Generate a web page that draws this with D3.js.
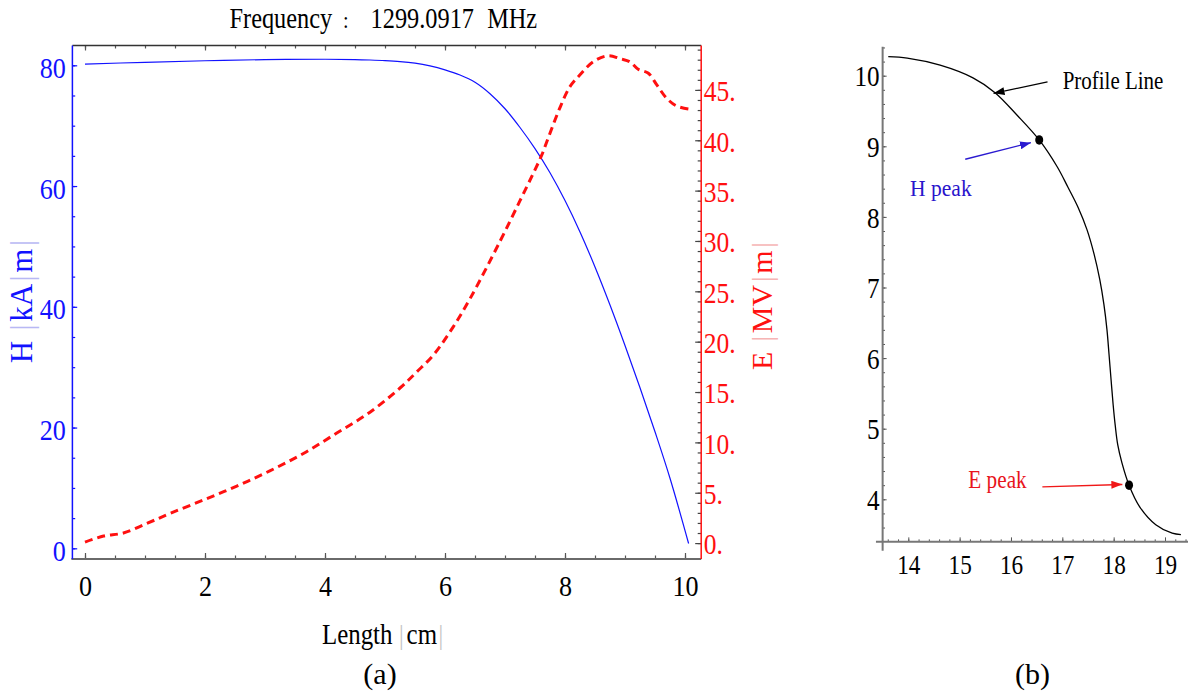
<!DOCTYPE html>
<html>
<head>
<meta charset="utf-8">
<script src="https://cdn.jsdelivr.net/npm/d3@7"></script>
<style>
  html, body { margin: 0; padding: 0; background: #fff; }
  svg { display: block; }
</style>
</head>
<body>
<svg id="chart" width="1188" height="697"></svg>
<script>
// ---- (a) field amplitudes along the cavity axis ----
const lengthH = [0, 1, 2, 3, 4, 4.5, 4.75, 5.0, 5.25, 5.5, 5.75, 6.0, 6.25, 6.5, 6.75, 7.0, 7.25, 7.5, 7.75, 8.0, 8.25, 8.5, 8.75, 9.0, 9.25, 9.5, 9.75, 10.06];
const fieldH  = [80.2, 80.5, 80.75, 80.95, 81.0, 80.95, 80.88, 80.78, 80.62, 80.35, 79.9, 79.25, 78.4, 77.2, 75.3, 72.8, 69.7, 66.2, 62.2, 57.6, 52.4, 46.6, 40.3, 33.6, 26.6, 19.3, 11.6, 0.8];

const lengthE = [0, 0.31, 0.64, 1.03, 1.42, 1.97, 2.53, 3.08, 3.64, 4.19, 4.75, 5.25, 5.53, 5.81, 6.14, 6.42, 6.92, 7.25, 7.47, 7.61, 7.75, 7.92, 8.08, 8.25, 8.47, 8.72, 8.92, 9.08, 9.22, 9.39, 9.53, 9.69, 9.86, 10.06];
const fieldE  = [0.1, 0.7, 1.0, 1.95, 2.95, 4.27, 5.66, 7.17, 8.9, 10.9, 13.0, 15.4, 17.0, 18.7, 21.5, 24.3, 30.0, 34.0, 36.7, 38.5, 40.7, 43.3, 45.3, 46.5, 47.8, 48.4, 48.1, 47.8, 47.05, 46.65, 45.5, 44.2, 43.4, 43.1];

const lengthTicks = [0, 2, 4, 6, 8, 10];
const hTicks = [0, 20, 40, 60, 80];
const eTicks = [0, 5, 10, 15, 20, 25, 30, 35, 40, 45];

// ---- (b) cell wall profile ----
const profileZ = [13.61, 13.98, 14.62, 15.26, 15.69, 16.12, 16.55, 16.9, 17.11, 17.31, 17.48, 17.62, 17.73, 17.81, 17.87, 17.91, 17.95, 17.99, 18.03, 18.08, 18.16, 18.3, 18.51, 18.82, 19.14, 19.31];
const profileR = [10.27, 10.25, 10.15, 9.97, 9.76, 9.44, 9.09, 8.71, 8.42, 8.13, 7.82, 7.47, 7.11, 6.76, 6.4, 6.05, 5.69, 5.34, 5.05, 4.77, 4.52, 4.2, 3.89, 3.64, 3.52, 3.5];

const peakNames = ["H peak", "E peak"];
const peakZ = [16.55, 18.3];
const peakR = [9.09, 4.2];

const zTicks = [14, 15, 16, 17, 18, 19];
const rTicks = [4, 5, 6, 7, 8, 9, 10];

// ---- drawing ----
const W = 1188, H = 697;
const FONT = '"Liberation Serif", "Times New Roman", serif';
const BLUE = "#1212ff", RED = "#ff1010", FRAME = "#6a6a6a";
const svg = d3.select("#chart");

// narrow the glyphs horizontally while keeping each label anchored at its x
function squeeze(sel, k) {
  sel.attr("transform", function () {
    const x = +this.getAttribute("x") || 0;
    return `translate(${x * (1 - k)},0) scale(${k},1)`;
  });
}
function styleAxis(g, size, fill, tickColor, tickWidth) {
  g.attr("font-family", FONT).attr("font-size", size);
  g.select(".domain").remove();
  g.selectAll(".tick line").attr("stroke", tickColor).attr("stroke-width", tickWidth);
  g.selectAll(".tick text").attr("fill", fill);
}
function put(g, str, x, y, size, fill, len, anchor) {
  const t = g.append("text")
    .attr("x", x).attr("y", y)
    .attr("font-family", FONT).attr("font-size", size)
    .attr("fill", fill)
    .attr("text-anchor", anchor || "start")
    .text(str);
  if (len) t.attr("textLength", len).attr("lengthAdjust", "spacingAndGlyphs");
  return t;
}
// one text line built from pieces; pieces = [[string, dx, colour, size?], ...]
function pieced(g, x, y, size, k, pieces, anchor) {
  const t = g.append("text")
    .attr("x", x).attr("y", y)
    .attr("font-family", FONT).attr("font-size", size)
    .attr("text-anchor", anchor || "start");
  pieces.forEach(([s, dx, c, fs]) => {
    const sp = t.append("tspan").attr("dx", dx).attr("fill", c).text(s);
    if (fs) sp.attr("font-size", fs);
  });
  squeeze(t, k);
  return t;
}

// ===== panel (a) =====
const xA = d3.scaleLinear().domain([-0.21, 10.27]).range([72.4, 701.2]);
const yH = d3.scaleLinear().domain([-1.77, 83.28]).range([559, 45.5]);
const yE = d3.scaleLinear().domain([-1.58, 49.41]).range([559, 45.5]);
const [ax0, ax1] = xA.range();
const [ayB, ayT] = yH.range();
const gA = svg.append("g");

const smooth = d3.curveCatmullRom.alpha(0.5);
const lineH = d3.line().x(d => xA(d[0])).y(d => yH(d[1])).curve(smooth);
const lineE = d3.line().x(d => xA(d[0])).y(d => yE(d[1])).curve(smooth);

gA.append("path")
  .datum(d3.zip(lengthH, fieldH))
  .attr("d", lineH)
  .attr("fill", "none").attr("stroke", BLUE).attr("stroke-width", 1.2);

gA.append("path")
  .datum(d3.zip(lengthE, fieldE))
  .attr("d", lineE)
  .attr("fill", "none").attr("stroke", RED).attr("stroke-width", 3)
  .attr("stroke-dasharray", "8,5");

// bottom edge: half-centimetre minor ticks and labelled majors
const halfCm = d3.range(0, 21).map(i => i / 2);
gA.append("g").attr("transform", `translate(0,${ayB})`)
  .call(d3.axisBottom(xA).tickValues(halfCm).tickSize(-3.5).tickFormat(""))
  .call(g => styleAxis(g, 30, "#000", "#555", 1.2));
gA.append("g").attr("transform", `translate(0,${ayB})`)
  .call(d3.axisBottom(xA).tickValues(lengthTicks).tickSize(-6).tickPadding(16).tickFormat(d3.format("d")))
  .call(g => { styleAxis(g, 30, "#000", "#555", 1.2); squeeze(g.selectAll("text"), 0.87); });

// top edge
gA.append("g").attr("transform", `translate(0,${ayT})`)
  .call(d3.axisTop(xA).tickValues(halfCm).tickSize(-3).tickFormat(""))
  .call(g => styleAxis(g, 30, "#000", "#555", 1.2));
gA.append("g").attr("transform", `translate(0,${ayT})`)
  .call(d3.axisTop(xA).tickValues(lengthTicks).tickSize(-5).tickFormat(""))
  .call(g => styleAxis(g, 30, "#000", "#555", 1.2));

// left edge: H scale
gA.append("g").attr("transform", `translate(${ax0},0)`)
  .call(d3.axisLeft(yH).tickValues(d3.range(0, 81, 5)).tickSize(-2.8).tickFormat(""))
  .call(g => styleAxis(g, 30, BLUE, BLUE, 1.2));
gA.append("g").attr("transform", `translate(${ax0},0)`)
  .call(d3.axisLeft(yH).tickValues(hTicks).tickSize(-4.8).tickPadding(6.5))
  .call(g => {
    styleAxis(g, 30, BLUE, BLUE, 1.2);
    g.selectAll("text").attr("dy", "0.4em");
    squeeze(g.selectAll("text"), 0.87);
  });

// right edge: E scale
gA.append("g").attr("transform", `translate(${ax1},0)`)
  .call(d3.axisRight(yE).tickValues(d3.range(0, 50)).tickSize(-3.5).tickFormat(""))
  .call(g => styleAxis(g, 30, RED, "#444", 1.2));
gA.append("g").attr("transform", `translate(${ax1},0)`)
  .call(d3.axisRight(yE).tickValues(eTicks).tickSize(-6).tickPadding(2.5).tickFormat(d => d + "."))
  .call(g => {
    styleAxis(g, 30, RED, "#444", 1.2);
    g.selectAll("text").attr("dy", "0.36em");
    squeeze(g.selectAll("text"), 0.85);
  });

// frame
gA.append("line").attr("x1", ax0 - 1).attr("x2", ax1).attr("y1", ayB).attr("y2", ayB)
  .attr("stroke", FRAME).attr("stroke-width", 2);
gA.append("line").attr("x1", ax0).attr("x2", ax1).attr("y1", ayT).attr("y2", ayT)
  .attr("stroke", "#333").attr("stroke-width", 1.5);
gA.append("line").attr("x1", ax0).attr("x2", ax0).attr("y1", ayT).attr("y2", ayB)
  .attr("stroke", BLUE).attr("stroke-width", 1.5);
gA.append("line").attr("x1", ax1).attr("x2", ax1).attr("y1", ayT).attr("y2", ayB)
  .attr("stroke", RED).attr("stroke-width", 1.5);

// plot title
pieced(gA, 229.5, 28.5, 29, 0.84, [
  ["Frequency", 0, "#000"],
  [":", 12.9, "#000", 24],
  ["1299.0917", 26, "#000"],
  ["MHz", 15.6, "#000"]
]);

// axis titles
pieced(gA, 322, 644, 30, 0.83, [
  ["Length", 0, "#000"],
  ["|", 7.8, "#c4c4c4", 28],
  ["cm", 3.6, "#000"],
  ["|", 1.9, "#c4c4c4", 28]
]);

function verticalTitle(g, x, yMid, size, parts, color, faint) {
  const t = g.append("text")
    .attr("transform", `translate(${x},${yMid}) rotate(-90)`)
    .attr("text-anchor", "middle")
    .attr("font-family", FONT).attr("font-size", size)
    .attr("fill", color);
  parts.forEach((p, i) => {
    t.append("tspan")
      .attr("dx", i === 0 ? 0 : 2.5)
      .attr("fill", p === "|" ? faint : color)
      .text(p);
  });
}
verticalTitle(gA, 31.5, 301.5, 31, ["H ", "|", "kA", "|", "m", "|"], BLUE, "#b8b8f4");
verticalTitle(gA, 771.5, 306, 30, ["E ", "|", "MV", "|", "m", "|"], RED, "#f6b4b4");

put(gA, "(a)", 380, 684, 30, "#000", null, "middle");

// ===== panel (b) =====
const xB = d3.scaleLinear().domain([14, 19]).range([908.3, 1165]);
const yB = d3.scaleLinear().domain([4, 10]).range([499.3, 75.7]);
const gB = svg.append("g");
const zAxisR = 3.4, rAxisZ = 13.5;
const bx0 = xB(rAxisZ), by0 = yB(zAxisR);

// horizontal axis
gB.append("g").attr("transform", `translate(0,${by0})`)
  .call(d3.axisBottom(xB).tickValues(d3.range(68, 98).map(i => i / 5)).tickSize(-2.3).tickFormat(""))
  .call(g => styleAxis(g, 27, "#000", "#555", 1));
gB.append("g").attr("transform", `translate(0,${by0})`)
  .call(d3.axisBottom(xB).tickValues(zTicks).tickSize(-4.3).tickPadding(13.3).tickFormat(d3.format("d")))
  .call(g => { styleAxis(g, 27, "#000", "#555", 1); squeeze(g.selectAll("text"), 0.86); });

// vertical axis
gB.append("g").attr("transform", `translate(${bx0},0)`)
  .call(d3.axisLeft(yB).tickValues(d3.range(18, 53).map(i => i / 5)).tickSize(-2.4).tickFormat(""))
  .call(g => styleAxis(g, 30, "#000", "#555", 1));
gB.append("g").attr("transform", `translate(${bx0},0)`)
  .call(d3.axisLeft(yB).tickValues(rTicks).tickSize(-4).tickPadding(3).tickFormat(d3.format("d")))
  .call(g => {
    styleAxis(g, 30, "#000", "#555", 1);
    g.selectAll("text").attr("dy", "0.34em");
    squeeze(g.selectAll("text"), 0.84);
  });

gB.append("line").attr("x1", xB(13.37)).attr("x2", W).attr("y1", by0).attr("y2", by0)
  .attr("stroke", "#777").attr("stroke-width", 2);
gB.append("line").attr("x1", bx0).attr("x2", bx0).attr("y1", yB(10.41)).attr("y2", yB(3.27))
  .attr("stroke", "#777").attr("stroke-width", 2);

// profile curve
const lineP = d3.line().x(d => xB(d[0])).y(d => yB(d[1])).curve(smooth);
gB.append("path")
  .datum(d3.zip(profileZ, profileR))
  .attr("d", lineP)
  .attr("fill", "none").attr("stroke", "#000").attr("stroke-width", 1.3);

// peak markers
gB.selectAll("ellipse.peak")
  .data(d3.zip(peakNames, peakZ, peakR))
  .join("ellipse").attr("class", "peak")
  .attr("cx", d => xB(d[1])).attr("cy", d => yB(d[2]))
  .attr("rx", 4).attr("ry", 4.8).attr("fill", "#000");

// arrows
const defs = svg.append("defs");
function head(id, color) {
  defs.append("marker").attr("id", id)
    .attr("viewBox", "0 0 11 8").attr("refX", 11).attr("refY", 4)
    .attr("markerWidth", 11).attr("markerHeight", 8)
    .attr("markerUnits", "userSpaceOnUse").attr("orient", "auto")
    .append("path").attr("d", "M0,0 L11,4 L0,8 Z").attr("fill", color);
}
head("ahBlack", "#000");
head("ahBlue", "#2a1ad0");
head("ahRed", "#f01818");
function arrow(x1, y1, x2, y2, color, id) {
  gB.append("line").attr("x1", x1).attr("y1", y1).attr("x2", x2).attr("y2", y2)
    .attr("stroke", color).attr("stroke-width", 1.3).attr("marker-end", `url(#${id})`);
}

// "Profile Line" points at the wall near z = 15.66
const pTipX = xB(15.66), pTipY = yB(9.75);
arrow(pTipX + 54, pTipY - 11.4, pTipX, pTipY, "#000", "ahBlack");
put(gB, "Profile Line", 1062.7, 89.3, 26, "#000", 100.7);

const hx = xB(peakZ[0]), hy = yB(peakR[0]);
arrow(hx - 74, hy + 19.3, hx - 8.3, hy + 2.7, "#2a1ad0", "ahBlue");
put(gB, peakNames[0], 910, 195.5, 24, "#2a14cc", 61.7);

const ex = xB(peakZ[1]), ey = yB(peakR[1]);
arrow(ex - 86.7, ey + 1.7, ex - 6.7, ey - 0.7, "#f01818", "ahRed");
put(gB, peakNames[1], 968.3, 488.3, 25, "#e8141c", 58.4);

put(gB, "(b)", 1032.5, 684, 30, "#000", null, "middle");
</script>
</body>
</html>
